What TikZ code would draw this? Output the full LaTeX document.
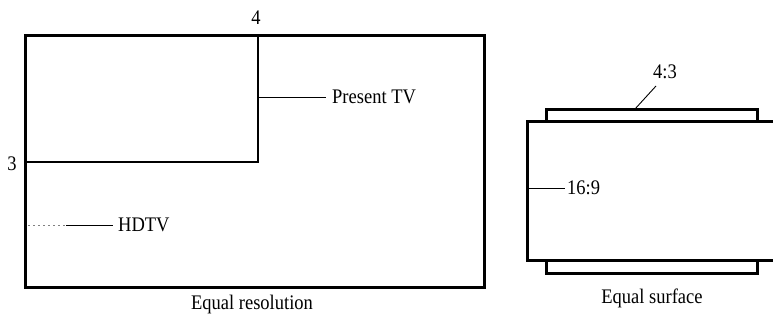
\documentclass[tikz,border=0pt]{standalone}
\usepackage{fontspec}
\setmainfont{Liberation Serif}
\usepackage{graphicx}
\newcommand{\tallt}[1]{\scalebox{1}[1.12]{#1}}
\begin{document}
\begin{tikzpicture}[x=1pt,y=-1pt,
  thickline/.style={line width=3pt,line join=miter},
  thinline/.style={line width=1.6pt},
  leader/.style={line width=0.9pt},
  lbl/.style={font=\fontsize{18.5}{22}\selectfont,inner sep=0pt}]
\useasboundingbox (0,0) rectangle (773,323);
% Equal resolution
\draw[thickline] (25,36) rectangle (484,287);
\draw[thinline] (25,162) -- (258,162) -- (258,36);
\node[lbl] (four) at (256,18) {\tallt{4}};
\node[lbl] (three) at (12,164) {\tallt{3}};
\coordinate (ptv0) at (258,97);
\node[lbl,anchor=west] (ptv) at (332,97) {\tallt{Present TV}};
\draw[leader] (ptv0) -- ([xshift=-6pt]ptv.west);
\coordinate (hd0) at (28,225);
\coordinate (hd1) at (66,225);
\node[lbl,anchor=west] (hdtv) at (118,225) {\tallt{HDTV}};
\draw[leader,gray,dash pattern=on 2pt off 3pt] (hd0) -- (hd1);
\draw[leader] (hd1) -- ([xshift=-5pt]hdtv.west);
\node[lbl] (eqres) at (252,305) {\tallt{Equal resolution}};
% Equal surface
\draw[thickline] (546,122) -- (546,110) -- (757,110) -- (757,122);
\draw[thickline] (546,260) -- (546,273) -- (757,273) -- (757,260);
\draw[thickline] (773,122) -- (527,122) -- (527,260) -- (773,260);
\draw[thinline] (546,122) -- (757,122);
\draw[thinline] (546,260) -- (757,260);
\coordinate (fta) at (635,109);
\node[lbl] (ft) at (665,72) {\tallt{4:3}};
\draw[leader] (fta) -- (656,86);
\coordinate (sna) at (528,188);
\node[lbl,anchor=west] (sn) at (567,188) {\tallt{16:9}};
\draw[leader] (sna) -- ([xshift=-2pt]sn.west);
\node[lbl] (eqsurf) at (652,298) {\tallt{Equal surface}};
\end{tikzpicture}
\end{document}
